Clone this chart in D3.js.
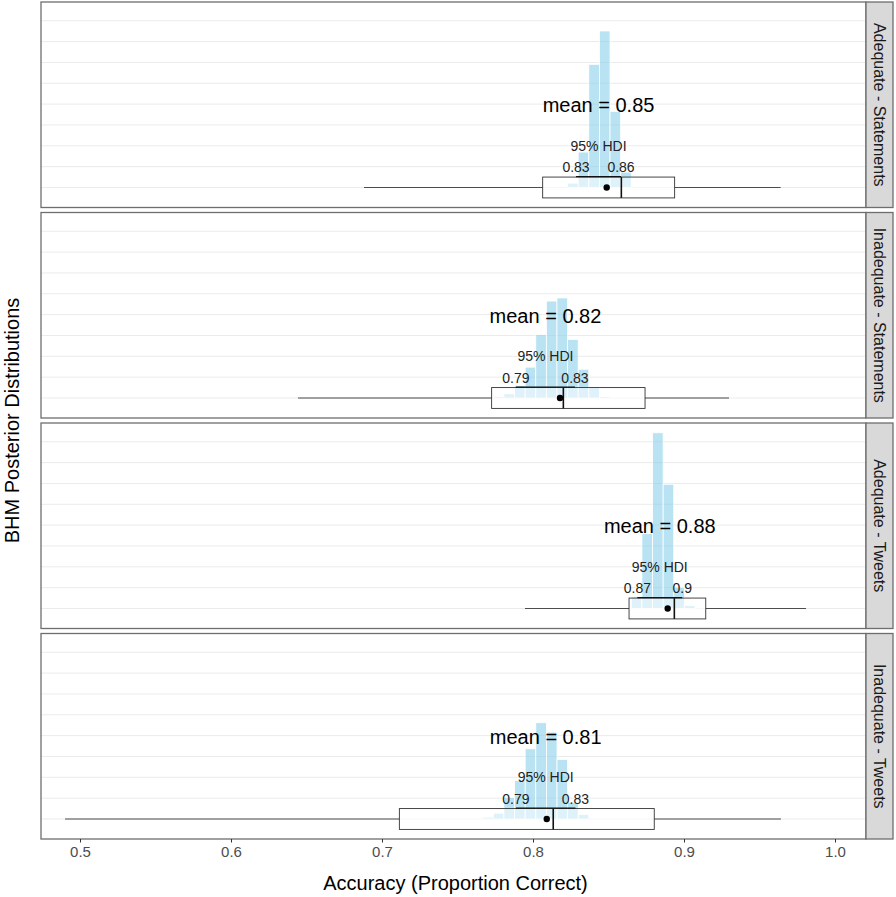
<!DOCTYPE html>
<html>
<head>
<meta charset="utf-8">
<script src="https://cdn.jsdelivr.net/npm/d3@7"></script>
<style>
  html, body { margin: 0; padding: 0; background: #fff; }
  svg { display: block; font-family: "Liberation Sans", Arial, sans-serif; }
</style>
</head>
<body>
<svg id="chart" width="896" height="897"></svg>
<script>
// ---- data ----
const categories = ["Adequate - Statements", "Inadequate - Statements", "Adequate - Tweets", "Inadequate - Tweets"];
const meanLabels = ["0.85", "0.82", "0.88", "0.81"];
const meanValues = [0.8488, 0.8179, 0.8892, 0.8091];
const hdiLowLabels = ["0.83", "0.79", "0.87", "0.79"];
const hdiHighLabels = ["0.86", "0.83", "0.9", "0.83"];
const hdiLow = [0.8285, 0.7887, 0.8691, 0.7887];
const hdiHigh = [0.8583, 0.8278, 0.8988, 0.8281];
// boxplot of observed accuracy: [lower whisker, Q1, median, Q3, upper whisker]
const boxStats = [
  [0.6881, 0.8064, 0.8585, 0.8938, 0.9640],
  [0.6444, 0.7726, 0.8201, 0.8742, 0.9298],
  [0.7947, 0.8636, 0.8936, 0.9144, 0.9808],
  [0.4901, 0.7115, 0.8134, 0.8803, 0.9642]
];
// posterior histograms
const binWidth = 0.00703;
const binStart = [0.8229, 0.7737, 0.8651, 0.7667];
const binHeights = [
  [0.21, 1.70, 5.91, 7.51, 3.65, 0.74],
  [0.07, 0.20, 0.60, 1.48, 3.04, 4.65, 4.80, 2.81, 1.38, 0.52, 0.07],
  [0.55, 3.59, 8.43, 5.96, 1.02, 0.15],
  [0.09, 0.28, 1.03, 1.85, 3.37, 4.62, 4.17, 2.86, 0.79, 0.22]
];
const xTicks = [0.5, 0.6, 0.7, 0.8, 0.9, 1.0];
const gridValues = [0, 1, 2, 3, 4, 5, 6, 7, 8];
const xTitle = "Accuracy (Proportion Correct)";
const yTitle = "BHM Posterior Distributions";

// ---- layout ----
const svg = d3.select("#chart");
const plotLeft = 41, plotRight = 866, stripRight = 893;
const panelTop0 = 2, panelH = 205.5, panelStep = 210.5;
const x = d3.scaleLinear().domain([0.5, 1.0]).range([80, 835]);
const yDomain = [-0.96, 8.9];

categories.forEach((cat, i) => {
  const top = panelTop0 + i * panelStep;
  const y = d3.scaleLinear().domain(yDomain).range([top + panelH, top]);
  const g = svg.append("g");

  g.append("rect").attr("x", plotLeft).attr("y", top)
    .attr("width", plotRight - plotLeft).attr("height", panelH).attr("fill", "#fff");

  g.selectAll("line.grid").data(gridValues).join("line")
    .attr("x1", plotLeft).attr("x2", plotRight)
    .attr("y1", d => y(d)).attr("y2", d => y(d))
    .attr("stroke", "#ebebeb").attr("stroke-width", 1);

  const bins = binHeights[i].map((h, k) => ({ x0: binStart[i] + k * binWidth, h }));
  g.selectAll("rect.bar").data(bins).join("rect")
    .attr("x", d => x(d.x0)).attr("width", d => x(d.x0 + binWidth) - x(d.x0))
    .attr("y", d => y(d.h)).attr("height", d => y(0) - y(d.h))
    .attr("fill", "#87ceeb").attr("fill-opacity", 0.58)
    .attr("stroke", "#fff").attr("stroke-width", 0.8);

  const [wl, q1, med, q3, wh] = boxStats[i];
  const bh = 0.5;
  g.append("line").attr("x1", x(wl)).attr("x2", x(q1)).attr("y1", y(0)).attr("y2", y(0))
    .attr("stroke", "#4d4d4d").attr("stroke-width", 1.1);
  g.append("line").attr("x1", x(q3)).attr("x2", x(wh)).attr("y1", y(0)).attr("y2", y(0))
    .attr("stroke", "#4d4d4d").attr("stroke-width", 1.1);
  g.append("rect").attr("x", x(q1)).attr("y", y(bh))
    .attr("width", x(q3) - x(q1)).attr("height", y(-bh) - y(bh))
    .attr("fill", "#fff").attr("fill-opacity", 0.55)
    .attr("stroke", "#333").attr("stroke-width", 0.9);
  g.append("line").attr("x1", x(med)).attr("x2", x(med)).attr("y1", y(bh)).attr("y2", y(-bh))
    .attr("stroke", "#111").attr("stroke-width", 1.6);

  g.append("line").attr("x1", x(hdiLow[i])).attr("x2", x(hdiHigh[i]))
    .attr("y1", y(bh) - 0.5).attr("y2", y(bh) - 0.5)
    .attr("stroke", "#111").attr("stroke-width", 1.2);

  g.append("circle").attr("cx", x(meanValues[i])).attr("cy", y(0)).attr("r", 3.2).attr("fill", "#000");

  const mid = (hdiLow[i] + hdiHigh[i]) / 2;
  g.append("text").attr("x", x(mid)).attr("y", y(3.62)).attr("text-anchor", "middle")
    .attr("font-size", 20).attr("fill", "#000").text("mean = " + meanLabels[i]);
  g.append("text").attr("x", x(mid)).attr("y", y(1.76)).attr("text-anchor", "middle")
    .attr("font-size", 14).attr("fill", "#222").text("95% HDI");
  g.append("text").attr("x", x(hdiLow[i])).attr("y", y(0.73)).attr("text-anchor", "middle")
    .attr("font-size", 14).attr("fill", "#222").text(hdiLowLabels[i]);
  g.append("text").attr("x", x(hdiHigh[i])).attr("y", y(0.73)).attr("text-anchor", "middle")
    .attr("font-size", 14).attr("fill", "#222").text(hdiHighLabels[i]);

  g.append("rect").attr("x", plotLeft).attr("y", top)
    .attr("width", plotRight - plotLeft).attr("height", panelH)
    .attr("fill", "none").attr("stroke", "#6e6e6e").attr("stroke-width", 1.3);

  g.append("rect").attr("x", plotRight).attr("y", top)
    .attr("width", stripRight - plotRight).attr("height", panelH)
    .attr("fill", "#d9d9d9").attr("stroke", "#6e6e6e").attr("stroke-width", 1.3);
  const sx = (plotRight + stripRight) / 2, sy = top + panelH / 2;
  g.append("text").attr("transform", `translate(${sx},${sy}) rotate(90)`)
    .attr("text-anchor", "middle").attr("dy", "0.35em")
    .attr("font-size", 16).attr("fill", "#1a1a1a").text(cat);
});

const bottom = panelTop0 + 3 * panelStep + panelH;
const axis = d3.axisBottom(x).tickValues(xTicks).tickSize(3.5).tickPadding(4)
  .tickFormat(d => d3.format(".1f")(d));
const ax = svg.append("g").attr("transform", `translate(0,${bottom})`).call(axis);
ax.select(".domain").remove();
ax.selectAll(".tick line").attr("stroke", "#333").attr("stroke-width", 1);
ax.selectAll(".tick text").attr("font-size", 15).attr("fill", "#4d4d4d")
  .attr("font-family", "Liberation Sans, Arial, sans-serif");

svg.append("text").attr("x", (plotLeft + plotRight) / 2 + 2).attr("y", 890)
  .attr("text-anchor", "middle").attr("font-size", 20).attr("fill", "#000").text(xTitle);

svg.append("text").attr("transform", `translate(19,${(panelTop0 + bottom) / 2}) rotate(-90)`)
  .attr("text-anchor", "middle").attr("font-size", 20).attr("fill", "#000").text(yTitle);
</script>
</body>
</html>
